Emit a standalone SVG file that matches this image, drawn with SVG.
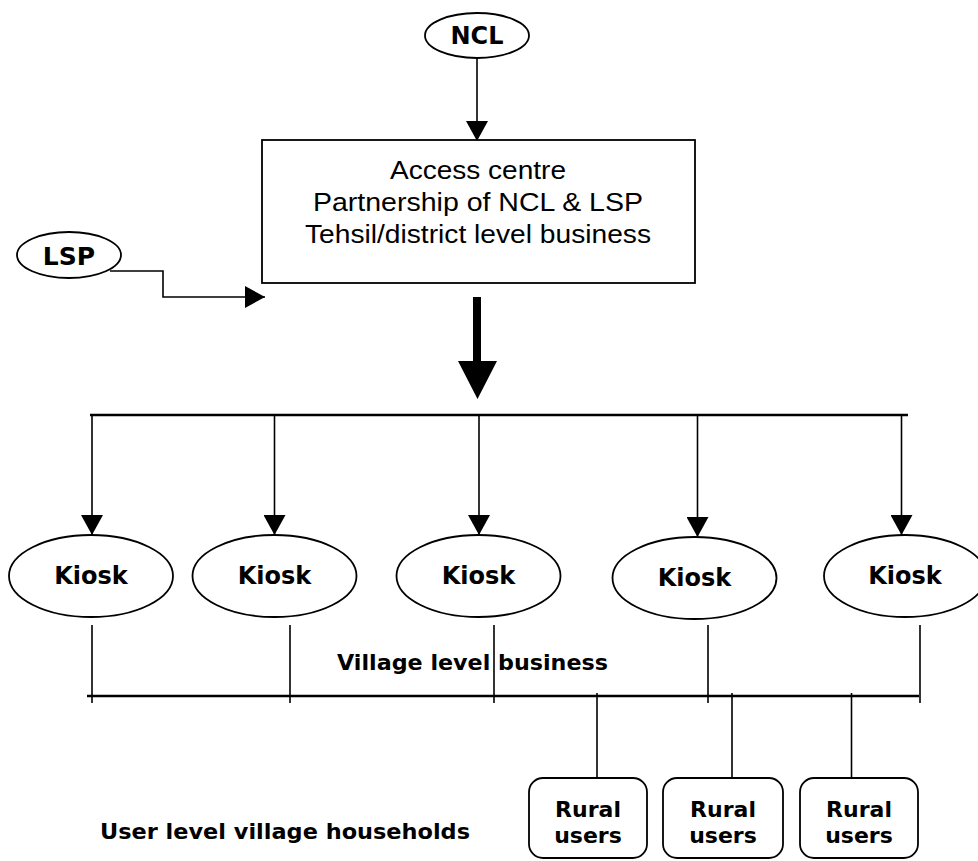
<svg xmlns="http://www.w3.org/2000/svg" width="978" height="861" viewBox="0 0 978 861">
<defs>
<style>
.shape{fill:#fff;stroke:#000;stroke-width:1.8}
.ln{fill:none;stroke:#000;stroke-width:1.6}
.bus{fill:none;stroke:#000;stroke-width:2.6}
.lbl{font-family:"DejaVu Sans",Verdana,sans-serif;font-weight:bold;fill:#000;text-anchor:middle}
.box{font-family:"Liberation Sans",Arial,sans-serif;font-size:25px;fill:#000;text-anchor:middle}
</style>
<marker id="ah" viewBox="0 0 20 22" refX="20" refY="11" markerWidth="20" markerHeight="22" markerUnits="userSpaceOnUse" orient="auto">
<path d="M0,0 L20,11 L0,22 Z" fill="#000"/>
</marker>
</defs>
<rect width="978" height="861" fill="#fff"/>

<g id="connectors">
<line class="ln" x1="477" y1="58" x2="477" y2="141" marker-end="url(#ah)"/>
<path class="ln" d="M110,271 H163 V297 H265" marker-end="url(#ah)"/>
<path d="M473,297 H481 V361 H497 L477.5,399 L458,361 H473 Z" fill="#000"/>
<line class="bus" x1="90" y1="415" x2="908" y2="415"/>
<line class="ln" x1="92" y1="415" x2="92" y2="535" marker-end="url(#ah)"/>
<line class="ln" x1="274.5" y1="415" x2="274.5" y2="535" marker-end="url(#ah)"/>
<line class="ln" x1="479" y1="415" x2="479" y2="535" marker-end="url(#ah)"/>
<line class="ln" x1="697.5" y1="415" x2="697.5" y2="537" marker-end="url(#ah)"/>
<line class="ln" x1="901.5" y1="415" x2="901.5" y2="535" marker-end="url(#ah)"/>
<line class="ln" x1="92" y1="625" x2="92" y2="703"/>
<line class="ln" x1="290" y1="625" x2="290" y2="703"/>
<line class="ln" x1="494" y1="625" x2="494" y2="703"/>
<line class="ln" x1="708" y1="625" x2="708" y2="703"/>
<line class="ln" x1="920" y1="625" x2="920" y2="703"/>
<line class="bus" x1="87" y1="696" x2="919" y2="696"/>
<line class="ln" x1="597" y1="693" x2="597" y2="778"/>
<line class="ln" x1="732" y1="693" x2="732" y2="778"/>
<line class="ln" x1="851.5" y1="693" x2="851.5" y2="778"/>
</g>

<g id="ncl">
<ellipse class="shape" cx="477" cy="35.5" rx="52" ry="22.5"/>
<text class="lbl" x="477" y="44" font-size="24">NCL</text>
</g>

<g id="lsp">
<ellipse class="shape" cx="69" cy="255" rx="52" ry="23"/>
<text class="lbl" x="69" y="265" font-size="25">LSP</text>
</g>

<g id="access-centre">
<rect class="shape" x="262" y="140" width="433" height="143"/>
<text class="box" x="478" y="179" textLength="176" lengthAdjust="spacingAndGlyphs">Access centre</text>
<text class="box" x="478" y="211" textLength="330" lengthAdjust="spacingAndGlyphs">Partnership of NCL &amp; LSP</text>
<text class="box" x="478" y="243" textLength="346" lengthAdjust="spacingAndGlyphs">Tehsil/district level business</text>
</g>

<g id="kiosk1">
<ellipse class="shape" cx="91" cy="576" rx="82" ry="41"/>
<text class="lbl" x="91" y="584" font-size="24">Kiosk</text>
</g>
<g id="kiosk2">
<ellipse class="shape" cx="274.5" cy="576" rx="82" ry="41"/>
<text class="lbl" x="274.5" y="584" font-size="24">Kiosk</text>
</g>
<g id="kiosk3">
<ellipse class="shape" cx="478.5" cy="576" rx="82" ry="41"/>
<text class="lbl" x="478.5" y="584" font-size="24">Kiosk</text>
</g>
<g id="kiosk4">
<ellipse class="shape" cx="694.5" cy="578" rx="82" ry="41"/>
<text class="lbl" x="694.5" y="586" font-size="24">Kiosk</text>
</g>
<g id="kiosk5">
<ellipse class="shape" cx="905" cy="576" rx="81" ry="41"/>
<text class="lbl" x="905" y="584" font-size="24">Kiosk</text>
</g>

<g id="village-label">
<text class="lbl" x="337" y="670" font-size="22" style="text-anchor:start" textLength="271" lengthAdjust="spacingAndGlyphs">Village level business</text>
</g>

<g id="user-label">
<text class="lbl" x="100" y="839" font-size="21" style="text-anchor:start" textLength="370" lengthAdjust="spacingAndGlyphs">User level village households</text>
</g>

<g id="rural1">
<rect class="shape" x="529" y="778" width="118" height="80" rx="14"/>
<text class="lbl" x="588" y="817" font-size="22">Rural</text>
<text class="lbl" x="588" y="843" font-size="22">users</text>
</g>
<g id="rural2">
<rect class="shape" x="663" y="778" width="120" height="80" rx="14"/>
<text class="lbl" x="723" y="817" font-size="22">Rural</text>
<text class="lbl" x="723" y="843" font-size="22">users</text>
</g>
<g id="rural3">
<rect class="shape" x="800" y="778" width="118" height="80" rx="14"/>
<text class="lbl" x="859" y="817" font-size="22">Rural</text>
<text class="lbl" x="859" y="843" font-size="22">users</text>
</g>
</svg>
